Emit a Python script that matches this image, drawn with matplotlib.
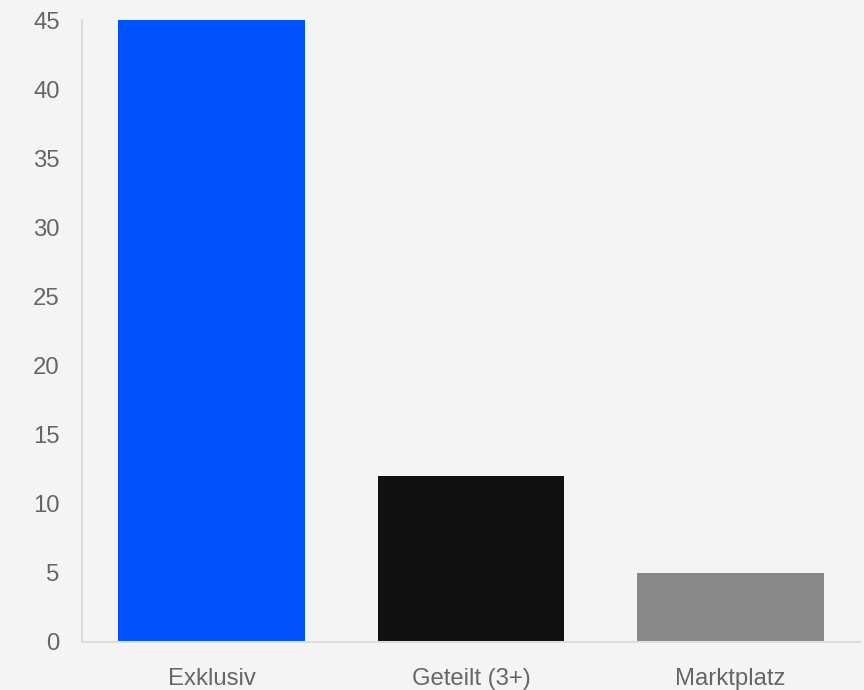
import matplotlib
matplotlib.use("Agg")
import matplotlib.pyplot as plt

# Chart data
categories = ["Exklusiv", "Geteilt (3+)", "Marktplatz"]
values = [45, 12, 5]
barColors = ["#0052ff", "#111111", "#888888"]
yTicks = [0, 5, 10, 15, 20, 25, 30, 35, 40, 45]

plt.rcParams['font.family'] = ['Liberation Sans', 'DejaVu Sans']

fig = plt.figure(figsize=(8.64, 6.9), dpi=100, facecolor="#f4f4f4")
ax = fig.add_axes([0.0949, 0.0696, 0.9005, 0.9014])
ax.set_facecolor("#f4f4f4")

# Draw bars
ax.bar(range(len(categories)), values, width=0.72, color=barColors)

ax.set_xlim(-0.5, len(categories) - 0.5)
ax.set_ylim(0, 45)
ax.set_yticks(yTicks)
ax.set_xticks(range(len(categories)))
ax.set_xticklabels(categories)

# Styling of axes
for side in ["top", "right"]:
    ax.spines[side].set_visible(False)
for side in ["left", "bottom"]:
    ax.spines[side].set_color("#dddddd")
    ax.spines[side].set_linewidth(1.5)

ax.tick_params(axis="y", length=0, pad=16, labelsize=17.2, labelcolor="#666666")
ax.tick_params(axis="x", length=0, pad=19, labelsize=17.2, labelcolor="#666666")

fig.savefig("out.png", dpi=100, facecolor=fig.get_facecolor())
